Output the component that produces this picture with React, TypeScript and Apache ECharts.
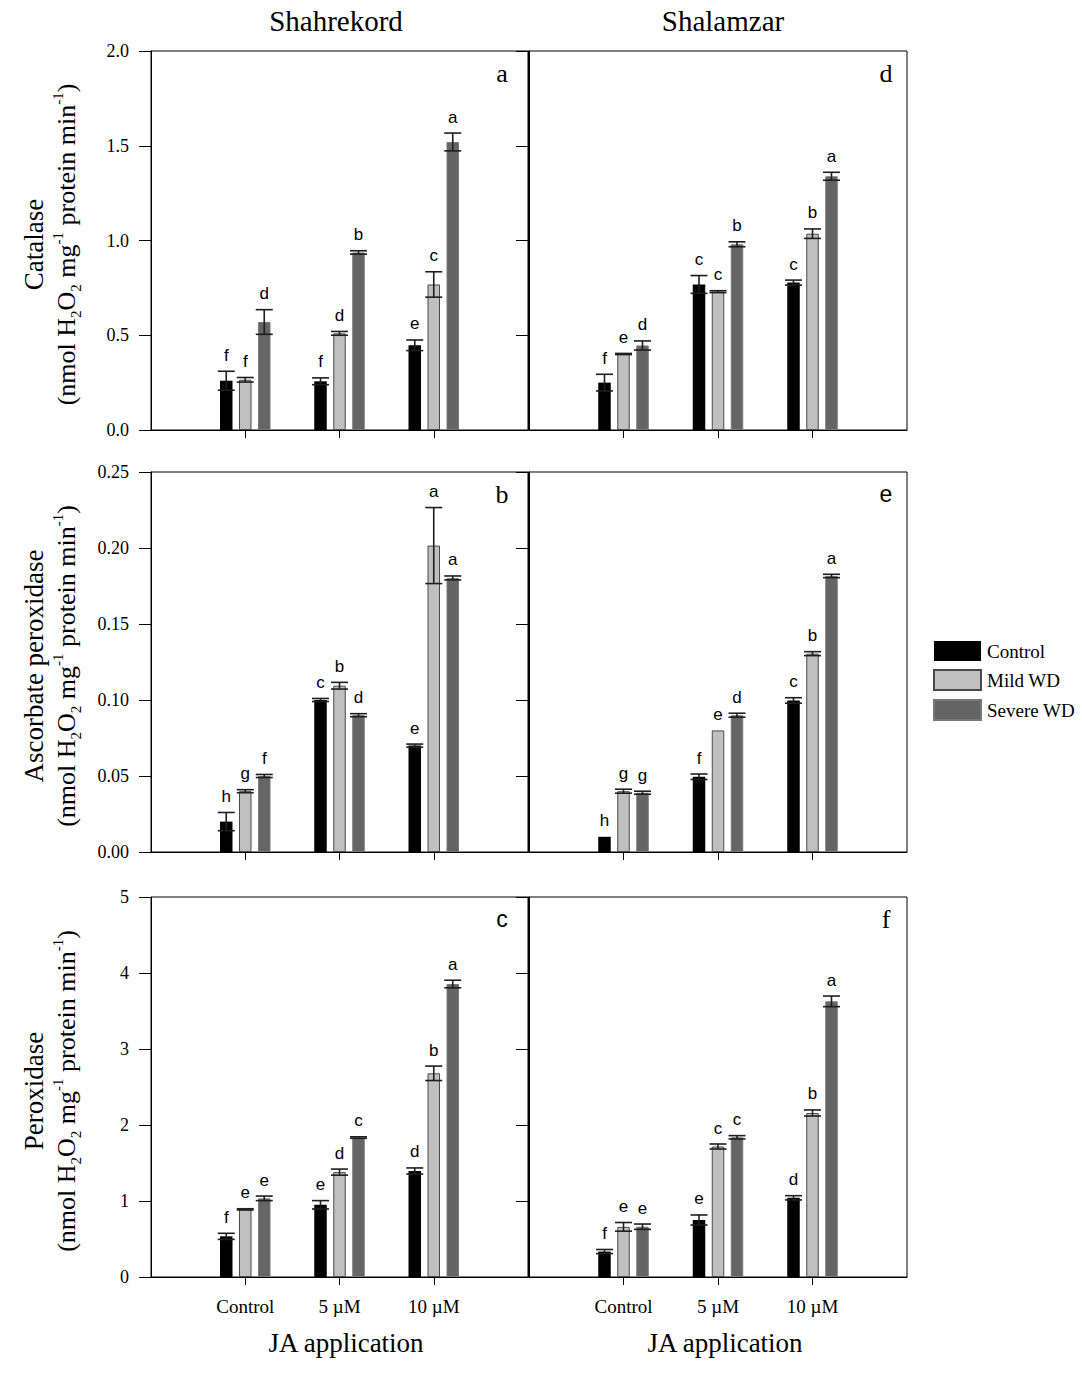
import React, { useEffect, useRef } from 'react';
import * as echarts from 'echarts';

// ---------- DATA ----------
const categories = ['', 'Control', '5 µM', '10 µM', ''];
const seriesNames = ['Control', 'Mild WD', 'Severe WD'];
const sites = ['Shahrekord', 'Shalamzar'];

// rows: [Control, Mild WD, Severe WD]; columns: JA level [Control, 5 µM, 10 µM]
// Catalase – Shahrekord (a)
const catalaseShahrekordMean = [[0.26, 0.257, 0.447], [0.265, 0.51, 0.768], [0.57, 0.937, 1.52]];
const catalaseShahrekordErr = [[0.05, 0.018, 0.028], [0.012, 0.01, 0.067], [0.065, 0.009, 0.047]];
const catalaseShahrekordLetters = [['f', 'f', 'e'], ['f', 'd', 'c'], ['d', 'b', 'a']];
// Catalase – Shalamzar (d)
const catalaseShalamzarMean = [[0.25, 0.768, 0.778], [0.401, 0.73, 1.036], [0.446, 0.98, 1.339]];
const catalaseShalamzarErr = [[0.044, 0.047, 0.013], [0.003, 0.005, 0.025], [0.024, 0.013, 0.021]];
const catalaseShalamzarLetters = [['f', 'c', 'c'], ['e', 'c', 'b'], ['d', 'b', 'a']];
// Ascorbate peroxidase – Shahrekord (b)
const apxShahrekordMean = [[0.02, 0.1, 0.07], [0.04, 0.1094, 0.2016], [0.05, 0.09, 0.1803]];
const apxShahrekordErr = [[0.006, 0.001, 0.001], [0.001, 0.0022, 0.025], [0.001, 0.001, 0.0013]];
const apxShahrekordLetters = [['h', 'c', 'e'], ['g', 'b', 'a'], ['f', 'd', 'a']];
// Ascorbate peroxidase – Shalamzar (e)
const apxShalamzarMean = [[0.01, 0.0495, 0.0997], [0.04, 0.08, 0.1305], [0.039, 0.09, 0.1816]];
const apxShalamzarErr = [[0, 0.0018, 0.0018], [0.0013, 0, 0.0013], [0.001, 0.0013, 0.0011]];
const apxShalamzarLetters = [['h', 'f', 'c'], ['g', 'e', 'b'], ['g', 'd', 'a']];
// Peroxidase – Shahrekord (c)
const poxShahrekordMean = [[0.535, 0.95, 1.395], [0.89, 1.38, 2.68], [1.035, 1.835, 3.855]];
const poxShahrekordErr = [[0.04, 0.055, 0.04], [0.008, 0.04, 0.095], [0.03, 0.01, 0.05]];
const poxShahrekordLetters = [['f', 'e', 'd'], ['e', 'd', 'b'], ['e', 'c', 'a']];
// Peroxidase – Shalamzar (f)
const poxShalamzarMean = [[0.335, 0.75, 1.042], [0.66, 1.717, 2.158], [0.662, 1.838, 3.627]];
const poxShalamzarErr = [[0.027, 0.066, 0.028], [0.057, 0.033, 0.04], [0.035, 0.022, 0.07]];
const poxShalamzarLetters = [['f', 'e', 'd'], ['e', 'c', 'b'], ['e', 'c', 'a']];

// axis scales
const catalaseAxis = { min: 0, max: 2, interval: 0.5, digits: 1 };
const apxAxis = { min: 0, max: 0.25, interval: 0.05, digits: 2 };
const poxAxis = { min: 0, max: 5, interval: 1, digits: 0 };

const panelLetters = ['a', 'd', 'b', 'e', 'c', 'f'];
const yTitles = ['Catalase', 'Ascorbate peroxidase', 'Peroxidase'];
const xTitle = 'JA application';

// ---------- LAYOUT / STYLE ----------
const GRID_LEFT = [151, 529];
const GRID_WIDTH = [377, 378];
const GRID_TOP = [51, 472, 897];
const GRID_HEIGHT = [379, 380, 380];
const BAR_W = 12.5;
const BAR_GAP = 6.5;
const STEP = BAR_W + BAR_GAP;
const CAP = 17;
const LETTER_OFF = 16;
const SERIF = '"Liberation Serif", "Times New Roman", serif';
const SANS = '"Liberation Sans", Arial, sans-serif';
const COLORS = ['#000000', '#c0c0c0', '#656565'];
const BORDERS = ['#000000', '#4a4a4a', '#787878'];
const BORDER_W = [0, 1, 1];

const panels = [
  { row: 0, col: 0, mean: catalaseShahrekordMean, err: catalaseShahrekordErr, letters: catalaseShahrekordLetters, axis: catalaseAxis },
  { row: 0, col: 1, mean: catalaseShalamzarMean, err: catalaseShalamzarErr, letters: catalaseShalamzarLetters, axis: catalaseAxis },
  { row: 1, col: 0, mean: apxShahrekordMean, err: apxShahrekordErr, letters: apxShahrekordLetters, axis: apxAxis },
  { row: 1, col: 1, mean: apxShalamzarMean, err: apxShalamzarErr, letters: apxShalamzarLetters, axis: apxAxis },
  { row: 2, col: 0, mean: poxShahrekordMean, err: poxShahrekordErr, letters: poxShahrekordLetters, axis: poxAxis },
  { row: 2, col: 1, mean: poxShalamzarMean, err: poxShalamzarErr, letters: poxShalamzarLetters, axis: poxAxis },
];

const showCat = (idx: number) => idx >= 1 && idx <= 3;

function buildOption() {
  const grids: any[] = [];
  const xAxes: any[] = [];
  const yAxes: any[] = [];
  const series: any[] = [];
  const graphics: any[] = [];

  panels.forEach((p, i) => {
    const left = GRID_LEFT[p.col];
    const width = GRID_WIDTH[p.col];
    const top = GRID_TOP[p.row];
    const height = GRID_HEIGHT[p.row];
    grids.push({ left, top, width, height, show: true, borderColor: '#000', borderWidth: 1, backgroundColor: 'transparent' });

    xAxes.push({
      type: 'category', gridIndex: i, data: categories, boundaryGap: false,
      axisLine: { show: true, lineStyle: { color: '#000', width: 1 } },
      axisTick: { show: true, interval: showCat, length: 8, inside: false, lineStyle: { color: '#000', width: 1 } },
      axisLabel: { show: p.row === 2, interval: showCat, margin: 20, fontFamily: SERIF, fontSize: 19, color: '#000' },
      splitLine: { show: false },
    });

    const ax = p.axis;
    const yMain = yAxes.length;
    yAxes.push({
      type: 'value', gridIndex: i, min: ax.min, max: ax.max, interval: ax.interval, position: 'left',
      axisLine: { show: true, lineStyle: { color: '#000', width: 1 } },
      axisTick: { show: p.col === 0, length: 12, inside: false, lineStyle: { color: '#000', width: 1 } },
      axisLabel: {
        show: p.col === 0, margin: 22, fontFamily: SERIF, fontSize: 18, color: '#000',
        formatter: (v: number) => v.toFixed(ax.digits),
      },
      splitLine: { show: false },
    });
    if (p.col === 0) {
      yAxes.push({
        type: 'value', gridIndex: i, min: ax.min, max: ax.max, interval: ax.interval, position: 'right',
        axisLine: { show: true, lineStyle: { color: '#000', width: 1 } },
        axisTick: { show: true, length: 12, inside: true, lineStyle: { color: '#000', width: 1 } },
        axisLabel: { show: false },
        splitLine: { show: false },
      });
    }

    for (let s = 0; s < 3; s++) {
      series.push({
        type: 'bar', name: seriesNames[s], xAxisIndex: i, yAxisIndex: yMain,
        data: [null, ...p.mean[s], null],
        barWidth: BAR_W, barGap: (BAR_GAP / BAR_W) * 100 + '%',
        itemStyle: { color: COLORS[s], borderColor: BORDERS[s], borderWidth: BORDER_W[s] },
        silent: true, z: 2,
      });
    }

    const items: any[] = [];
    for (let s = 0; s < 3; s++) {
      for (let c = 0; c < 3; c++) {
        items.push({ cat: c + 1, s, mean: p.mean[s][c], err: p.err[s][c], letter: p.letters[s][c] });
      }
    }
    series.push({
      type: 'custom', xAxisIndex: i, yAxisIndex: yMain, silent: true, z: 5, clip: false,
      data: items.map((it) => [it.cat, it.mean + it.err, it.mean - it.err]),
      encode: { x: 0, y: [1, 2] },
      renderItem: (params: any, api: any) => {
        const it = items[params.dataIndex];
        const base = api.coord([it.cat, it.mean]);
        const xc = base[0] + (it.s - 1) * STEP;
        const yTop = api.coord([it.cat, it.mean + it.err])[1];
        const yBot = api.coord([it.cat, it.mean - it.err])[1];
        const children: any[] = [];
        if (it.err > 0) {
          const ls = { stroke: '#1e1e1e', lineWidth: 1.6 };
          children.push({ type: 'line', shape: { x1: xc, y1: yTop, x2: xc, y2: yBot }, style: ls });
          children.push({ type: 'line', shape: { x1: xc - CAP / 2, y1: yTop, x2: xc + CAP / 2, y2: yTop }, style: ls });
          children.push({ type: 'line', shape: { x1: xc - CAP / 2, y1: yBot, x2: xc + CAP / 2, y2: yBot }, style: ls });
        }
        children.push({
          type: 'text', x: xc, y: yTop - LETTER_OFF,
          style: {
            text: it.letter, fill: '#000', fontSize: 17, fontFamily: SANS,
            align: 'center', verticalAlign: 'middle', textAlign: 'center', textVerticalAlign: 'middle',
          },
        });
        return { type: 'group', children };
      },
    });

    // panel letter
    const letter = panelLetters[i];
    const sansLetter = letter === 'c' || letter === 'e';
    graphics.push({
      type: 'text',
      x: left + width - (p.col === 0 ? 26 : 21),
      y: top + 22,
      style: {
        text: letter, fill: '#000', fontSize: sansLetter ? 23 : 26, fontFamily: sansLetter ? SANS : SERIF,
        align: 'center', verticalAlign: 'middle', textAlign: 'center', textVerticalAlign: 'middle',
      },
    });
  });

  // site titles
  const titleX = [336, 723];
  sites.forEach((name, k) => {
    graphics.push({
      type: 'text', x: titleX[k], y: 21,
      style: {
        text: name, fill: '#000', fontSize: 29, fontFamily: SERIF,
        align: 'center', verticalAlign: 'middle', textAlign: 'center', textVerticalAlign: 'middle',
      },
    });
  });

  // x titles
  const xTitleX = [346, 725];
  xTitleX.forEach((x) => {
    graphics.push({
      type: 'text', x, y: 1343,
      style: {
        text: xTitle, fill: '#000', fontSize: 27, fontFamily: SERIF,
        align: 'center', verticalAlign: 'middle', textAlign: 'center', textVerticalAlign: 'middle',
      },
    });
  });

  // y titles
  const unitLine = '{t|(nmol H}{sub|2}{t|O}{sub|2}{t| mg}{sup|-1}{t| protein min}{sup|-1}{t|)}';
  const rich = {
    t: { fontSize: 26, fontFamily: SERIF, fill: '#000', color: '#000', lineHeight: 33 },
    h: { fontSize: 27, fontFamily: SERIF, fill: '#000', color: '#000', lineHeight: 33 },
    sub: { fontSize: 15, fontFamily: SERIF, fill: '#000', color: '#000', lineHeight: 33, verticalAlign: 'bottom', padding: [0, 0, 0, 0] },
    sup: { fontSize: 15, fontFamily: SERIF, fill: '#000', color: '#000', lineHeight: 15, verticalAlign: 'top', padding: [0, 0, 0, 0] },
  };
  yTitles.forEach((title, r) => {
    graphics.push({
      type: 'text', x: 50, y: GRID_TOP[r] + GRID_HEIGHT[r] / 2 + 4, rotation: Math.PI / 2,
      style: {
        text: '{h|' + title + '}\n' + unitLine, rich, fill: '#000',
        align: 'center', verticalAlign: 'middle', textAlign: 'center', textVerticalAlign: 'middle',
      },
    });
  });

  return {
    animation: false,
    backgroundColor: '#ffffff',
    grid: grids,
    xAxis: xAxes,
    yAxis: yAxes,
    series,
    legend: {
      data: seriesNames, orient: 'vertical', left: 928, top: 636,
      itemWidth: 47, itemHeight: 20, itemGap: 8, icon: 'rect', selectedMode: false,
      textStyle: { fontFamily: SERIF, fontSize: 19, color: '#000', lineHeight: 20, padding: [0, 0, 0, 1] },
    },
    graphic: graphics,
  };
}

export default function App() {
  const ref = useRef<HTMLDivElement>(null);
  useEffect(() => {
    if (!ref.current) return;
    const chart = echarts.init(ref.current, undefined, { renderer: 'svg' });
    chart.setOption(buildOption() as any);
    return () => chart.dispose();
  }, []);
  return (
    <div
      ref={ref}
      style={{ position: 'absolute', left: 0, top: 0, width: 1082, height: 1380, background: '#fff' }}
    />
  );
}
